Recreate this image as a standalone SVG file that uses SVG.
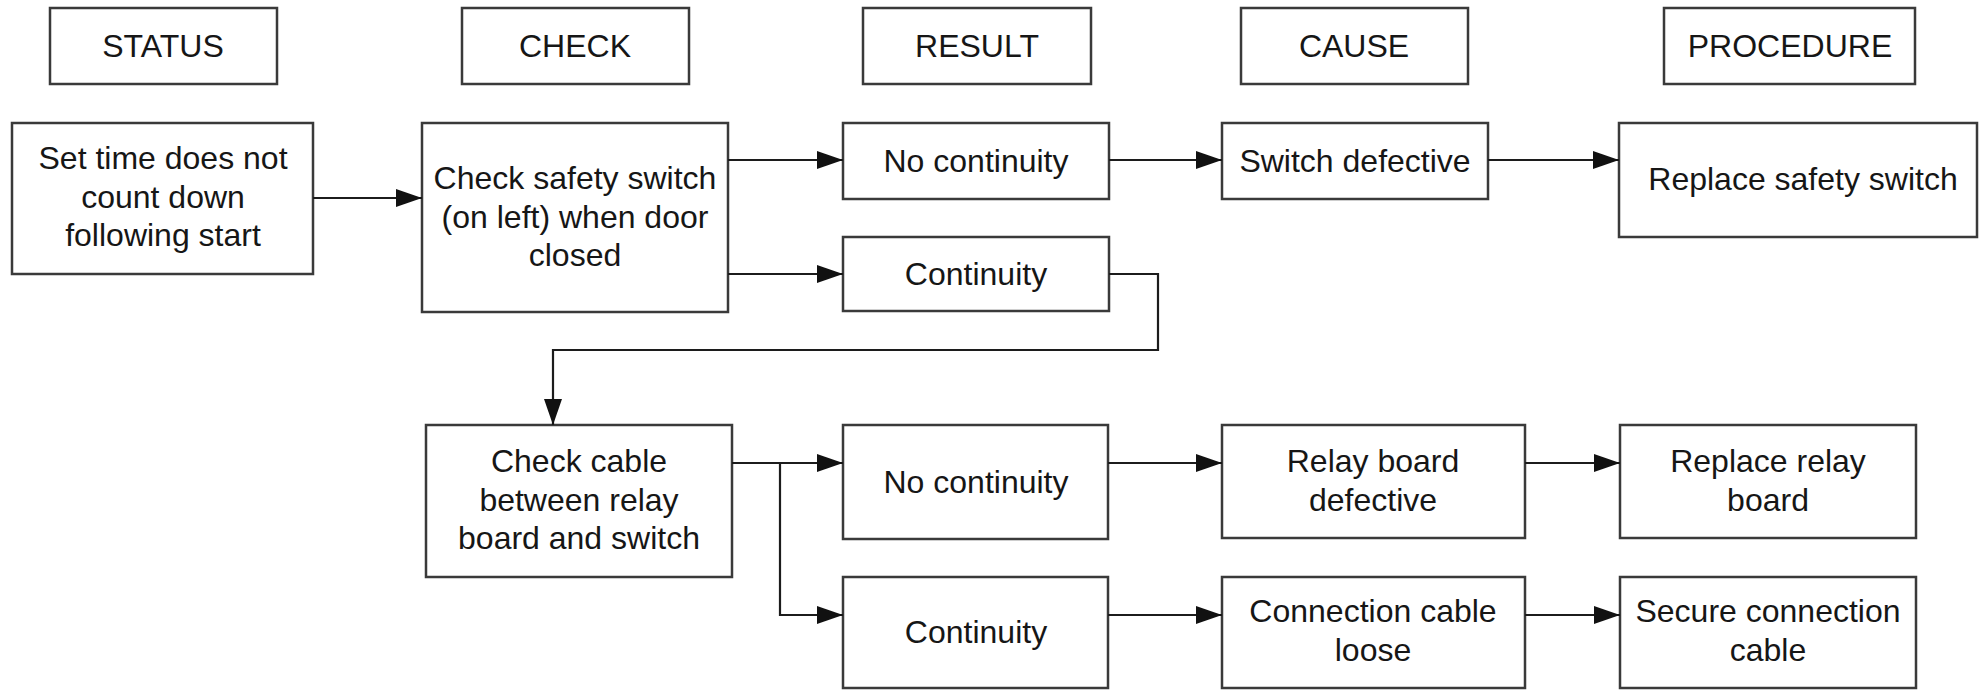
<svg xmlns="http://www.w3.org/2000/svg" width="1979" height="690" viewBox="0 0 1979 690">
<style>
.box{fill:#fff;stroke:#3a3a3a;stroke-width:2.5}
.t{font-family:"Liberation Sans",Arial,sans-serif;font-size:32px;fill:#161616;text-anchor:middle}
.c{fill:none;stroke:#1c1c1c;stroke-width:2.2}
</style>
<defs>
<marker id="ah" markerUnits="userSpaceOnUse" markerWidth="26" markerHeight="18" refX="26" refY="9" orient="auto">
<path d="M0,0 L26,9 L0,18 z" fill="#111"/>
</marker>
</defs>
<rect width="1979" height="690" fill="#fff"/>
<g id="h-status"><rect class="box" x="50" y="8" width="227" height="76"/><text class="t" x="163" y="57">STATUS</text></g>
<g id="h-check"><rect class="box" x="462" y="8" width="227" height="76"/><text class="t" x="575" y="57">CHECK</text></g>
<g id="h-result"><rect class="box" x="863" y="8" width="228" height="76"/><text class="t" x="977" y="57">RESULT</text></g>
<g id="h-cause"><rect class="box" x="1241" y="8" width="227" height="76"/><text class="t" x="1354" y="57">CAUSE</text></g>
<g id="h-procedure"><rect class="box" x="1664" y="8" width="251" height="76"/><text class="t" x="1790" y="57">PROCEDURE</text></g>

<g id="n-status"><rect class="box" x="12" y="123" width="301" height="151"/><text class="t" x="163" y="169">Set time does not</text><text class="t" x="163" y="208">count down</text><text class="t" x="163" y="246">following start</text></g>
<g id="n-check1"><rect class="box" x="422" y="123" width="306" height="189"/><text class="t" x="575" y="189">Check safety switch</text><text class="t" x="575" y="228">(on left) when door</text><text class="t" x="575" y="266">closed</text></g>
<g id="n-nocont1"><rect class="box" x="843" y="123" width="266" height="76"/><text class="t" x="976" y="172">No continuity</text></g>
<g id="n-cont1"><rect class="box" x="843" y="237" width="266" height="74"/><text class="t" x="976" y="285">Continuity</text></g>
<g id="n-switchdef"><rect class="box" x="1222" y="123" width="266" height="76"/><text class="t" x="1355" y="172">Switch defective</text></g>
<g id="n-replsafety"><rect class="box" x="1619" y="123" width="358" height="114"/><text class="t" x="1803" y="190">Replace safety switch</text></g>

<g id="n-check2"><rect class="box" x="426" y="425" width="306" height="152"/><text class="t" x="579" y="472">Check cable</text><text class="t" x="579" y="511">between relay</text><text class="t" x="579" y="549">board and switch</text></g>
<g id="n-nocont2"><rect class="box" x="843" y="425" width="265" height="114"/><text class="t" x="976" y="493">No continuity</text></g>
<g id="n-cont2"><rect class="box" x="843" y="577" width="265" height="111"/><text class="t" x="976" y="643">Continuity</text></g>
<g id="n-relaydef"><rect class="box" x="1222" y="425" width="303" height="113"/><text class="t" x="1373" y="472">Relay board</text><text class="t" x="1373" y="511">defective</text></g>
<g id="n-replrelay"><rect class="box" x="1620" y="425" width="296" height="113"/><text class="t" x="1768" y="472">Replace relay</text><text class="t" x="1768" y="511">board</text></g>
<g id="n-cableloose"><rect class="box" x="1222" y="577" width="303" height="111"/><text class="t" x="1373" y="622">Connection cable</text><text class="t" x="1373" y="661">loose</text></g>
<g id="n-securecable"><rect class="box" x="1620" y="577" width="296" height="111"/><text class="t" x="1768" y="622">Secure connection</text><text class="t" x="1768" y="661">cable</text></g>

<g id="connectors">
<path class="c" d="M313,198 H422" marker-end="url(#ah)"/>
<path class="c" d="M728,160 H843" marker-end="url(#ah)"/>
<path class="c" d="M728,274 H843" marker-end="url(#ah)"/>
<path class="c" d="M1109,160 H1222" marker-end="url(#ah)"/>
<path class="c" d="M1488,160 H1619" marker-end="url(#ah)"/>
<path class="c" d="M1109,274 H1158 V350 H553 V425" marker-end="url(#ah)"/>
<path class="c" d="M732,463 H843" marker-end="url(#ah)"/>
<path class="c" d="M780,463 V615 H843" marker-end="url(#ah)"/>
<path class="c" d="M1108,463 H1222" marker-end="url(#ah)"/>
<path class="c" d="M1525,463 H1620" marker-end="url(#ah)"/>
<path class="c" d="M1108,615 H1222" marker-end="url(#ah)"/>
<path class="c" d="M1525,615 H1620" marker-end="url(#ah)"/>
</g>
</svg>
